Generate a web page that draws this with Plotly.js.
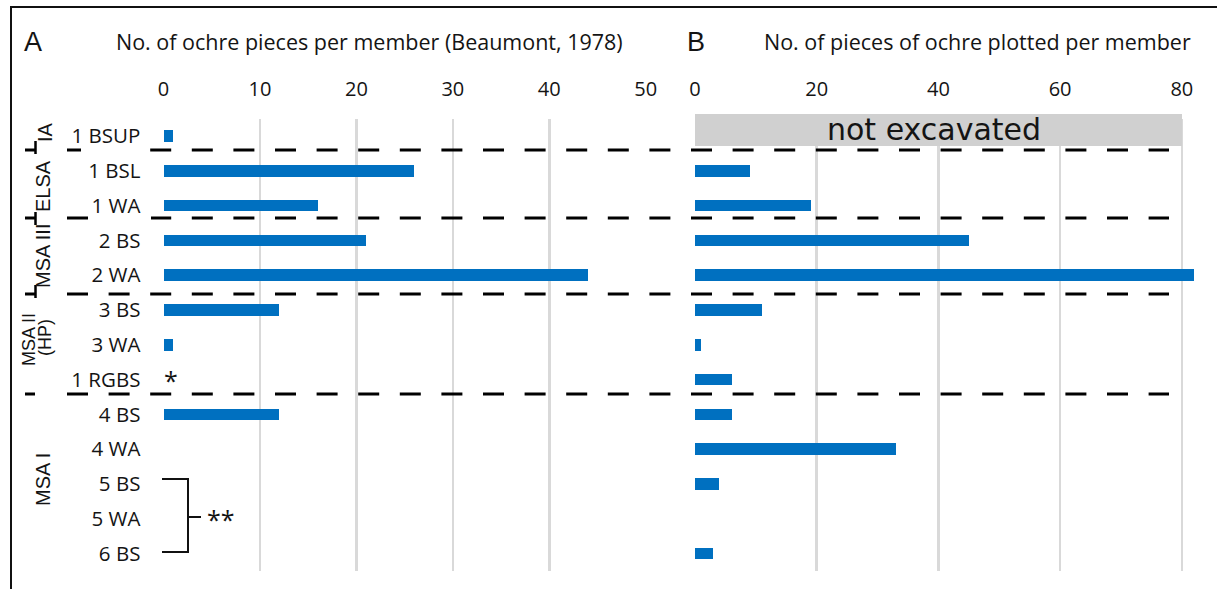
<!DOCTYPE html>
<html>
<head>
<meta charset="utf-8">
<script src="https://cdn.plot.ly/plotly-3.0.1.min.js"></script>
<style>html,body{margin:0;padding:0;background:#fff;}#chart{width:1217px;height:589px;}</style>
</head>
<body>
<div id="chart"></div>
<script>
// ---- data ----
const members = ['1 BSUP','1 BSL','1 WA','2 BS','2 WA','3 BS','3 WA','1 RGBS','4 BS','4 WA','5 BS','5 WA','6 BS'];
const beaumontCounts = [1, 26, 16, 21, 44, 12, 1, null, 12, null, null, null, null];
const plottedCounts = [null, 9, 19, 45, 82, 11, 1, 6, 6, 33, 4, null, 3];
const ticksA = [0, 10, 20, 30, 40, 50];
const ticksB = [0, 20, 40, 60, 80];
const groupLabels = ['IA', 'ELSA', 'MSA III', 'MSA II', '(HP)', 'MSA I'];
const titleA = 'No. of ochre pieces per member (Beaumont, 1978)';
const titleB = 'No. of pieces of ochre plotted per member';

// ---- layout helpers (pixel -> paper) ----
const W = 1217, H = 589;
const px = x => x / W;
const py = y => 1 - y / H;

const BLUE = '#0070C0';
const TXT = '#141414';
const tickFont = {family: 'Open Sans', size: 20, color: TXT};
const catFont = {family: 'Open Sans', size: 20.5, color: TXT};

const traces = [
  {type: 'bar', orientation: 'h', y: members, x: beaumontCounts, xaxis: 'x', yaxis: 'y',
   width: 0.33, marker: {color: BLUE}, hoverinfo: 'x+y'},
  {type: 'bar', orientation: 'h', y: members, x: plottedCounts, xaxis: 'x2', yaxis: 'y2',
   width: 0.33, marker: {color: BLUE}, hoverinfo: 'x+y'}
];

const yDomain = [py(571), py(118.6)];
const commonX = {
  side: 'top', showgrid: true, gridcolor: '#d9d9d9', gridwidth: 2.5, zeroline: false,
  showline: false, ticks: 'outside', ticklen: 14, tickcolor: 'rgba(0,0,0,0)',
  tickfont: tickFont, tickmode: 'array', fixedrange: true
};
const commonY = {
  domain: yDomain, type: 'category', categoryorder: 'array', categoryarray: members,
  range: [12.5, -0.5], showgrid: false, zeroline: false, showline: false, fixedrange: true
};

const dashLine = y => ({type: 'line', xref: 'paper', yref: 'paper', x0: px(67), x1: px(1169),
  y0: py(y), y1: py(y), layer: 'above', line: {color: '#000', width: 3, dash: '21px,20.6px'}});
const leftDash = y => ({type: 'line', xref: 'paper', yref: 'paper', x0: px(25), x1: px(35),
  y0: py(y), y1: py(y), layer: 'above', line: {color: '#000', width: 3}});
const vBar = (yc) => ({type: 'line', xref: 'paper', yref: 'paper', x0: px(35.5), x1: px(35.5),
  y0: py(yc - 7), y1: py(yc + 6), layer: 'above', line: {color: '#000', width: 2.5}});
const whiteRect = (x0, x1, yc) => ({type: 'rect', xref: 'paper', yref: 'paper', x0: px(x0), x1: px(x1),
  y0: py(yc + 3), y1: py(yc - 3), layer: 'above', line: {width: 0}, fillcolor: '#fff'});

const shapes = [
  // frame
  {type: 'rect', xref: 'paper', yref: 'paper', x0: px(11), x1: px(1240), y0: py(610), y1: py(7),
   line: {color: '#111', width: 2}, fillcolor: 'rgba(0,0,0,0)', layer: 'above'},
  // "not excavated" box
  {type: 'rect', xref: 'paper', yref: 'paper', x0: px(695), x1: px(1182), y0: py(146), y1: py(114),
   line: {width: 0}, fillcolor: '#d0d0d0', layer: 'above'},
  dashLine(150), dashLine(218), dashLine(294), dashLine(394),
  leftDash(150), leftDash(218), leftDash(294), leftDash(394),
  whiteRect(81, 149, 150), whiteRect(89, 151, 218),
  vBar(148), vBar(219), vBar(292),
  // bracket for "**"
  {type: 'path', xref: 'paper', yref: 'paper', layer: 'above',
   path: `M${px(162)},${py(479)} L${px(188)},${py(479)} L${px(188)},${py(552)} L${px(162)},${py(552)} M${px(188)},${py(517)} L${px(201)},${py(517)}`,
   line: {color: '#111', width: 2}}
];

const ann = (text, x, y, font, extra) => Object.assign({text, x: px(x), y: py(y), xref: 'paper', yref: 'paper',
  xanchor: 'center', yanchor: 'middle', showarrow: false, font}, extra || {});
const labFont = s => ({family: 'Liberation Sans', size: s, color: TXT});
const annotations = [
  ann('A', 32.5, 41.5, labFont(27)),
  ann(titleA, 369, 41.5, {family: 'Open Sans', size: 21.5, color: TXT}),
  ann('B', 696, 41.5, labFont(27)),
  ann(titleB, 977.5, 41.5, {family: 'Open Sans', size: 21.5, color: TXT}),
  ann('not excavated', 934, 130, {family: 'DejaVu Sans', size: 30, color: TXT}),
  ann(groupLabels[0], 45, 132, labFont(20), {textangle: -90}),
  ann(groupLabels[1], 43, 186, labFont(20), {textangle: -90}),
  ann(groupLabels[2], 43, 256, labFont(20), {textangle: -90}),
  ann(groupLabels[3], 29, 339, labFont(18), {textangle: -90}),
  ann(groupLabels[4], 44.5, 337.5, labFont(18), {textangle: -90}),
  ann(groupLabels[5], 43, 480, labFont(20), {textangle: -90}),
  {text: '*', x: 0, y: '1 RGBS', xref: 'x', yref: 'y', xanchor: 'left', yanchor: 'middle',
   showarrow: false, xshift: -2, yshift: 0, font: {family: 'Open Sans', size: 25, color: TXT}},
  ann('**', 205, 519, {family: 'Open Sans', size: 25, color: TXT}, {xanchor: 'left'})
];

const layout = {
  width: W, height: H, margin: {l: 0, r: 0, t: 0, b: 0}, showlegend: false,
  paper_bgcolor: '#fff', plot_bgcolor: '#fff', bargap: 0,
  xaxis: Object.assign({}, commonX, {domain: [px(163.5), px(645.7)], range: [0, 50],
    tickvals: ticksA, anchor: 'y'}),
  yaxis: Object.assign({}, commonY, {anchor: 'x', ticks: 'outside', ticklen: 18,
    tickcolor: 'rgba(0,0,0,0)', tickfont: catFont}),
  xaxis2: Object.assign({}, commonX, {domain: [px(695), px(1194)], range: [0, 82],
    tickvals: ticksB, anchor: 'y2'}),
  yaxis2: Object.assign({}, commonY, {anchor: 'x2', showticklabels: false}),
  shapes, annotations
};

Plotly.newPlot('chart', traces, layout, {displayModeBar: false, staticPlot: true});
</script>
</body>
</html>
